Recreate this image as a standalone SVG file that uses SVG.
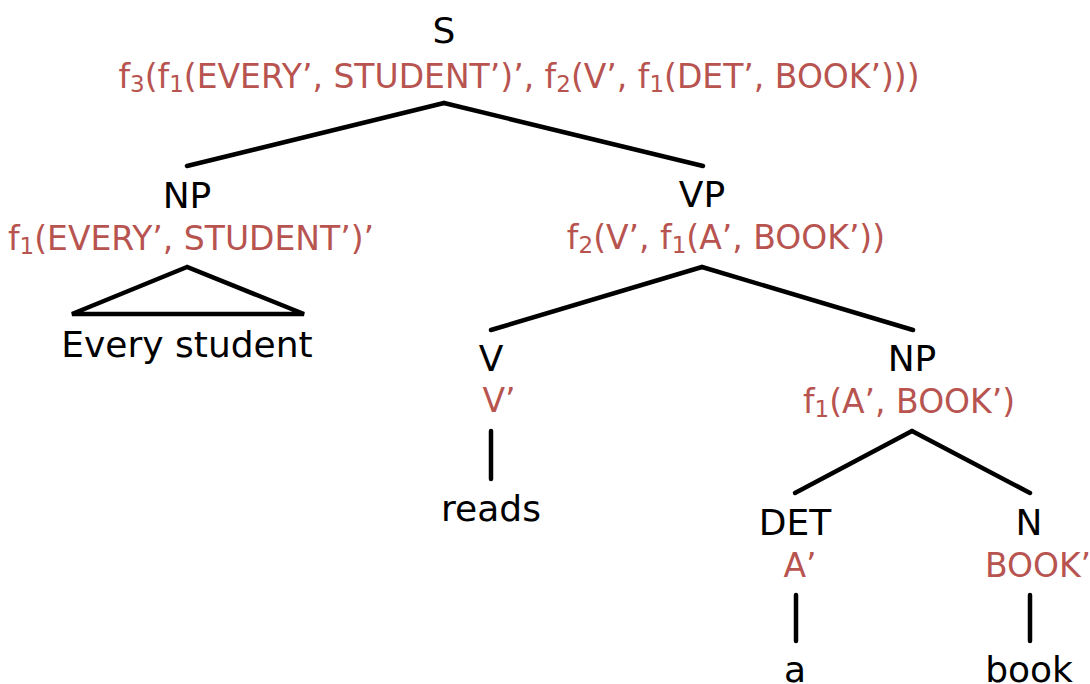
<svg xmlns="http://www.w3.org/2000/svg" width="1090" height="684" viewBox="0 0 1090 684">
<style>
.l{font-family:"DejaVu Sans",sans-serif;font-size:36px;fill:#000;text-anchor:middle}
.s{font-family:"DejaVu Sans",sans-serif;font-size:33px;fill:#b85450;text-anchor:middle}
.b{font-size:23px}
.e{stroke:#000;stroke-width:4.5;stroke-linecap:round;fill:none}
</style>
<rect width="1090" height="684" fill="#fff"/>
<g id="connectors" class="e">
<path d="M444,103 L187,166"/>
<path d="M444,103 L703,166"/>
<path d="M187,267 L72,314 L304,314 Z" stroke-linejoin="miter"/>
<path d="M702,267 L491,330"/>
<path d="M702,267 L913,330"/>
<path d="M491,431 L491,479"/>
<path d="M912,431 L795,493"/>
<path d="M912,431 L1030,493"/>
<path d="M796,595 L796,641"/>
<path d="M1030,595 L1030,641"/>
</g>
<g id="node-S"><text class="l" x="444" y="43">S</text><text class="s" x="519" y="88">f<tspan class="b" dy="4">3</tspan><tspan dy="-4">(f</tspan><tspan class="b" dy="4">1</tspan><tspan dy="-4">(EVERY’, STUDENT’)’, f</tspan><tspan class="b" dy="4">2</tspan><tspan dy="-4">(V’, f</tspan><tspan class="b" dy="4">1</tspan><tspan dy="-4">(DET’, BOOK’)))</tspan></text></g>
<g id="node-NP1"><text class="l" x="187" y="208">NP</text><text class="s" x="191" y="250">f<tspan class="b" dy="4">1</tspan><tspan dy="-4">(EVERY’, STUDENT’)’</tspan></text></g>
<g id="node-every"><text class="l" x="187" y="357">Every student</text></g>
<g id="node-VP"><text class="l" x="702" y="207">VP</text><text class="s" x="726" y="249">f<tspan class="b" dy="4">2</tspan><tspan dy="-4">(V’, f</tspan><tspan class="b" dy="4">1</tspan><tspan dy="-4">(A’, BOOK’))</tspan></text></g>
<g id="node-V"><text class="l" x="491" y="371">V</text><text class="s" x="499" y="412">V’</text></g>
<g id="node-reads"><text class="l" x="491" y="521">reads</text></g>
<g id="node-NP2"><text class="l" x="912" y="371">NP</text><text class="s" x="909" y="413">f<tspan class="b" dy="4">1</tspan><tspan dy="-4">(A’, BOOK’)</tspan></text></g>
<g id="node-DET"><text class="l" x="795" y="535">DET</text><text class="s" x="800" y="577">A’</text></g>
<g id="node-N"><text class="l" x="1029" y="535">N</text><text class="s" x="1038" y="577">BOOK’</text></g>
<g id="node-a"><text class="l" x="795" y="682">a</text></g>
<g id="node-book"><text class="l" x="1029" y="682">book</text></g>
</svg>
